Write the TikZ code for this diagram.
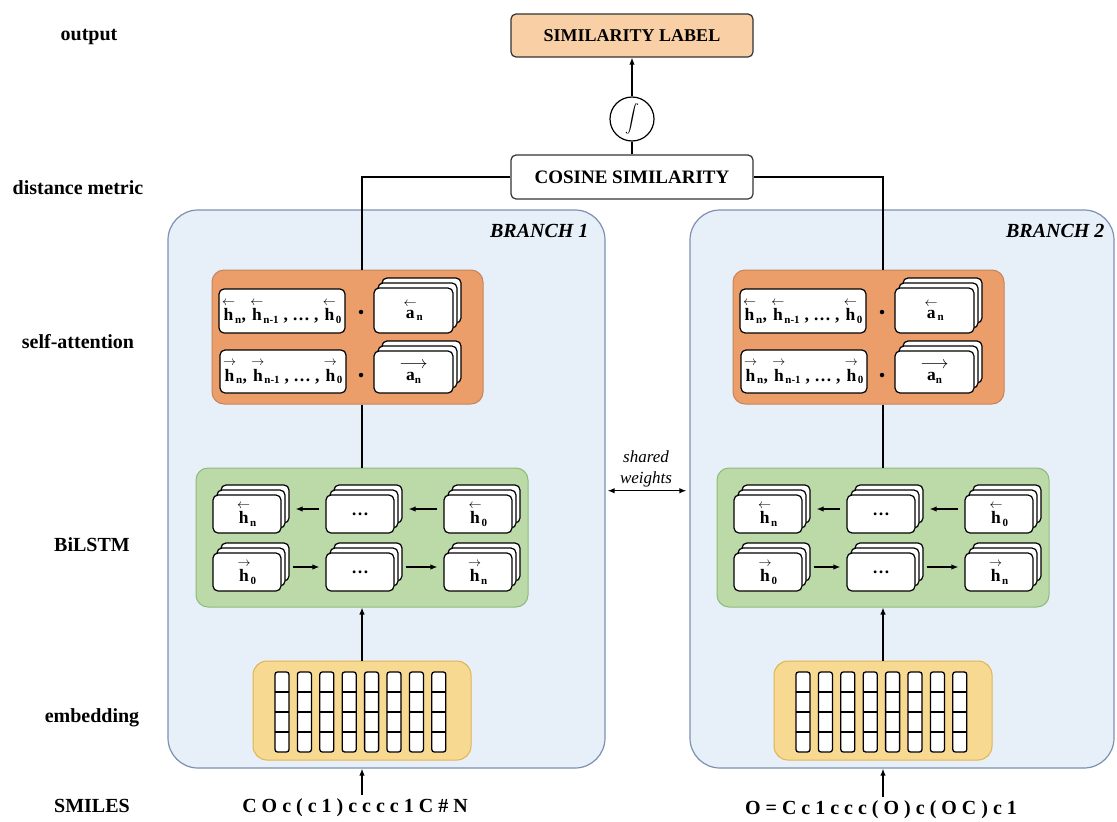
\RequirePackage{fix-cm}
\documentclass[tikz,border=0pt]{standalone}
\usepackage{fontspec}
\setmainfont{Liberation Serif}
\usepackage{amsmath}
\usepackage{graphicx}
\usetikzlibrary{arrows.meta,shadows,calc}
\definecolor{bfill}{HTML}{E7EFF9}
\definecolor{bbord}{HTML}{7C90B2}
\definecolor{attf}{HTML}{EC9E6A}
\definecolor{attd}{HTML}{C7845A}
\definecolor{lstmf}{HTML}{BBDAA8}
\definecolor{lstmd}{HTML}{8DBB7B}
\definecolor{embf}{HTML}{F8D992}
\definecolor{embd}{HTML}{DEB552}
\definecolor{peach}{HTML}{F9CFA6}
\newcommand{\myarrl}{\mbox{\fontsize{13}{13}\selectfont$\leftarrow$}}
\newcommand{\myarrr}{\mbox{\fontsize{13}{13}\selectfont$\rightarrow$}}
\newcommand{\myhl}[1]{\ensuremath{{\mathop{\mbox{h}}\limits^{\myarrl}}_{\mbox{\fontsize{11}{11}\selectfont #1}}}}
\newcommand{\myhr}[1]{\ensuremath{{\mathop{\mbox{h}}\limits^{\myarrr}}_{\mbox{\fontsize{11}{11}\selectfont #1}}}}
\newcommand{\myal}{\ensuremath{{\mathop{\mbox{a}}\limits^{\myarrl}}_{\mbox{\fontsize{11}{11}\selectfont n}}}}
\newcommand{\myar}{\ensuremath{\mathop{\mbox{a\fontsize{11}{11}\selectfont\raisebox{-3pt}{n}}}\limits^{\displaystyle\longrightarrow}}}
\tikzset{
  lab/.style={font=\fontsize{20}{24}\selectfont\bfseries},
  topbox/.style={draw=black!80, line width=1.2pt, rounded corners=5pt, minimum width=242pt, minimum height=44pt, font=\fontsize{19}{23}\selectfont\bfseries},
  branch/.style={draw=bbord, fill=bfill, line width=1.2pt, rounded corners=30pt, minimum height=558pt},
  attbox/.style={draw=attd, fill=attf, line width=1pt, rounded corners=12pt, minimum width=271pt, minimum height=134pt},
  lstmbox/.style={draw=lstmd, fill=lstmf, line width=1pt, rounded corners=12pt, minimum width=332pt, minimum height=139pt},
  embbox/.style={draw=embd, fill=embf, line width=1pt, rounded corners=14pt, minimum width=218pt, minimum height=99pt},
  card/.style={draw=black, fill=white, line width=1.2pt, rounded corners=5pt, inner sep=0pt, font=\fontsize{17.5}{20}\selectfont\bfseries},
  stack/.style={general shadow={shadow xshift=8pt, shadow yshift=10pt, fill=white, draw=black, line width=1.2pt},
                general shadow={shadow xshift=4pt, shadow yshift=5pt, fill=white, draw=black, line width=1.2pt}},
  dotn/.style={circle, fill=black, inner sep=0pt, minimum size=4.5pt},
  embcell/.style={draw=black, fill=white, line width=1.3pt, rounded corners=2.5pt},
  conn/.style={line width=1.3pt, black},
  arr/.style={conn, -{Latex[length=7pt,width=5.5pt]}},
}
\begin{document}
\begin{tikzpicture}[x=1pt,y=-1pt]
\useasboundingbox (0,0) rectangle (1117,822);
% row labels
\node[lab] (Lout) at (89,37) {output};
\node[lab] (Ldist) at (78,188) {distance metric};
\node[lab] (Lsa) at (78,342) {self-attention};
\node[lab] (Lbi) at (92,545) {BiLSTM};
\node[lab] (Lemb) at (92,718) {embedding};
\node[lab] (Lsm) at (92,806) {SMILES};
% branches
\node[branch, minimum width=437pt] (br1) at (386.5,489) {};
\node[branch, minimum width=424pt] (br2) at (902,489) {};
\node[font=\fontsize{20}{24}\selectfont\bfseries\itshape, anchor=east] (bt1) at (592,231) {BRANCH 1};
\node[font=\fontsize{20}{24}\selectfont\bfseries\itshape, anchor=east] (bt2) at (1108,231) {BRANCH 2};
% top
\node[topbox, fill=peach, minimum height=43pt, font=\fontsize{18}{22}\selectfont\bfseries] (sim) at (632,35.5) {SIMILARITY LABEL};
\node[circle, draw=black, line width=1.2pt, minimum size=44pt, inner sep=0pt, fill=white, font=\fontsize{17}{19}\selectfont] (sig) at (632,119) {\scalebox{0.8}{$\displaystyle\int$}};
\node[topbox, fill=white] (cos) at (632,177) {COSINE SIMILARITY};
\draw[arr] (sig.north) -- (sim.south);
\draw[conn] (cos.north) -- (sig.south);
% shared weights
\node[font=\fontsize{17}{21}\selectfont\itshape, align=center] (sw) at (646,469) {shared\\weights};
\draw[conn, {Latex[length=7pt,width=5.5pt]}-{Latex[length=7pt,width=5.5pt]}, shorten <=2pt, shorten >=3pt] (sw.south -| br1.east) -- (sw.south -| br2.west);
% branch contents
\foreach \b/\sx in {1/0, 2/521}{
\begin{scope}[xshift=\sx pt]
\node[attbox] (att\b) at (347.5,337) {};
\node[lstmbox] (bil\b) at (362,537.5) {};
\node[embbox] (emb\b) at (362,710.5) {};
\draw[conn] (cos.\ifnum\b=1 west\else east\fi) -| (att\b.north -| bil\b.north);
\draw[conn] (att\b.south -| bil\b.north) -- (bil\b.north);
\draw[arr] (emb\b.north) -- (bil\b.south);
% attention contents
\node[card, minimum width=126pt, minimum height=44pt] (ht\b) at (282,311) {\myhl{n}, \myhl{n-1} , \ldots\ , \myhl{0}};
\node[card, minimum width=126pt, minimum height=43pt] (hb\b) at (283,371.5) {\myhr{n}, \myhr{n-1} , \ldots\ , \myhr{0}};
\node[dotn] (dt\b) at (361,312) {};
\node[dotn] (db\b) at (361,375) {};
\node[card, stack, minimum width=79pt, minimum height=45pt] (at\b) at (413.5,310.5) {\myal};
\node[card, stack, minimum width=79pt, minimum height=42pt] (ab\b) at (413.5,372) {\myar};
% BiLSTM contents
\node[card, stack, minimum width=68pt, minimum height=38pt] (la\b) at (247,514) {\myhl{n}};
\node[card, stack, minimum width=68pt, minimum height=38pt] (lb\b) at (360,514) {\ldots};
\node[card, stack, minimum width=68pt, minimum height=38pt] (lc\b) at (478,514) {\myhl{0}};
\node[card, stack, minimum width=68pt, minimum height=38pt] (ra\b) at (247,572) {\myhr{0}};
\node[card, stack, minimum width=68pt, minimum height=38pt] (rb\b) at (360,572) {\ldots};
\node[card, stack, minimum width=68pt, minimum height=38pt] (rc\b) at (478,572) {\myhr{n}};
\draw[arr, shorten <=6pt, shorten >=14pt] ([yshift=5pt]lc\b.west) -- ([yshift=5pt]lb\b.east);
\draw[arr, shorten <=6pt, shorten >=14pt] ([yshift=5pt]lb\b.west) -- ([yshift=5pt]la\b.east);
\draw[arr, shorten <=11pt, shorten >=6pt] ([yshift=5pt]ra\b.east) -- ([yshift=5pt]rb\b.west);
\draw[arr, shorten <=11pt, shorten >=6pt] ([yshift=5pt]rb\b.east) -- ([yshift=5pt]rc\b.west);
% embedding columns
\foreach \i in {0,...,7}{
  \pgfmathsetmacro{\dx}{-80+22.4*\i}
  \draw[embcell] ($(emb\b.center)+(\dx-7,-38.5)$) rectangle ($(emb\b.center)+(\dx+7,41.5)$);
  \foreach \yy in {-18.5,1.5,21.5}{
    \draw[line width=1.2pt] ($(emb\b.center)+(\dx-7,\yy)$) -- ($(emb\b.center)+(\dx+7,\yy)$);
  }
}
\end{scope}
}
% SMILES
\node[lab] (s1) at (355,808) {C O c ( c 1 ) c c c c 1 C \# N};
\node[lab] (s2) at (881,810) {O = C c 1 c c c ( O ) c ( O C ) c 1};
\draw[arr] (s1.north -| emb1.south) -- (br1.south -| emb1.south);
\draw[arr] (s2.north -| emb2.south) -- (br2.south -| emb2.south);
\end{tikzpicture}
\end{document}
